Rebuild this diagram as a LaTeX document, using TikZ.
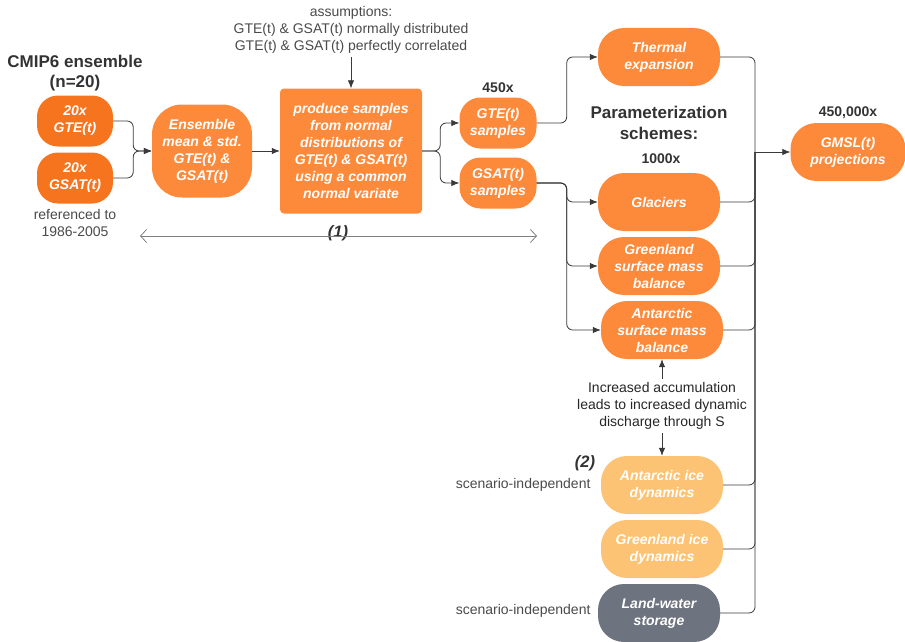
\documentclass[tikz,border=0pt]{standalone}
\usepackage{fontspec}
\setmainfont{Liberation Sans}
\usetikzlibrary{arrows.meta}

\definecolor{deeporange}{HTML}{F7741F}
\definecolor{mainorange}{HTML}{FD8A3A}
\definecolor{lightorange}{HTML}{FDC374}
\definecolor{slatebox}{HTML}{6E7380}
\definecolor{darktext}{HTML}{333333}
\definecolor{softtext}{HTML}{4A4A4A}
\definecolor{linegray}{HTML}{3A3A3A}

\tikzset{
	box/.style={fill=mainorange, text=white, align=center, inner sep=0pt,
		font=\fontsize{14}{17}\selectfont\bfseries\itshape,
		rounded corners=26pt, minimum width=122pt, minimum height=58pt},
	smallbox/.style={box, minimum width=77pt, minimum height=51pt, rounded corners=21pt},
	heading/.style={align=center, text=darktext, font=\fontsize{17}{20.5}\selectfont\bfseries},
	count/.style={text=darktext, font=\fontsize{14}{17}\selectfont\bfseries},
	note/.style={align=center, text=softtext, font=\fontsize{14}{17}\selectfont},
	tag/.style={text=darktext, font=\fontsize{16.5}{20}\selectfont\bfseries\itshape},
	conn/.style={draw=linegray, line width=0.8pt, rounded corners=6pt},
	arr/.style={conn, -{Latex[length=8pt,width=6.5pt]}}
}

\begin{document}
\begin{tikzpicture}[x=1pt, y=-1pt]
	
	\useasboundingbox (0,0) rectangle (905,642);
	
	% inputs
	\node[heading] (cmip) at (75,73) {CMIP6 ensemble\\(n=20)};
	\node[smallbox, fill=deeporange, minimum width=76pt] (gte20) at (75,121) {20x\\GTE(t)};
	\node[smallbox, fill=deeporange, minimum width=76pt] (gsat20) at (75,178) {20x\\GSAT(t)};
	\node[note] (refd) at (75,223) {referenced to\\1986-2005};
	
	\node[box, minimum width=100pt, minimum height=93pt, rounded corners=30pt] (ens) at (202,151) {Ensemble\\mean \& std.\\GTE(t) \&\\GSAT(t)};
	\node[box, minimum width=142pt, minimum height=125pt, rounded corners=4pt] (prod) at (351,151) {produce samples\\from normal\\distributions of\\GTE(t) \& GSAT(t)\\using a common\\normal variate};
	\node[note] (assum) at (351,30) {assumptions:\\GTE(t) \& GSAT(t) normally distributed\\GTE(t) \& GSAT(t) perfectly correlated};
	
	% samples
	\node[count] (n450) at (498,88) {450x};
	\node[smallbox] (gtes) at (498,123) {GTE(t)\\samples};
	\node[smallbox] (gsats) at (498,183) {GSAT(t)\\samples};
	
	\coordinate (spanl) at (140,236);
	\coordinate (spanr) at (537,236);
	\node[tag] (lab1) at (338,233) {(1)};
	
	% parameterization schemes
	\node[box] (therm) at (659,57) {Thermal\\expansion};
	\node[heading] (param) at (659,123) {Parameterization\\schemes:};
	\node[count] (n1000) at (661,159) {1000x};
	\node[box] (glac) at (659,202) {Glaciers};
	\node[box] (grsmb) at (659,266) {Greenland\\surface mass\\balance};
	\node[box] (ansmb) at (662,330) {Antarctic\\surface mass\\balance};
	\node[note, text=black!85] (accum) at (662,406) {Increased accumulation\\leads to increased dynamic\\discharge through S};
	
	\node[box, fill=lightorange] (anid) at (662,485) {Antarctic ice\\dynamics};
	\node[tag] (lab2) at (585,463) {(2)};
	\node[note, anchor=east] (indep1) at (594,485) {scenario-independent};
	\node[box, fill=lightorange] (grid) at (662,549) {Greenland ice\\dynamics};
	\node[box, fill=slatebox] (lws) at (659,613) {Land-water\\storage};
	\node[note, anchor=east] (indep2) at (594,611) {scenario-independent};
	
	% output
	\node[count] (n450k) at (848,113) {450,000x};
	\node[box, minimum width=115pt] (gmsl) at (848,152) {GMSL(t)\\projections};
	\coordinate (merge) at (755,152);
	
	% connectors
	\draw[arr] (gte20.east) -- ++(20,0) |- (ens.west);
	\draw[arr] (gsat20.east) -- ++(20,0) |- (ens.west);
	\draw[arr] (ens) -- (prod);
	\draw[arr] (assum) -- (prod);
	\draw[arr] (prod.east) -- ++(18,0) |- (gtes.west);
	\draw[arr] (prod.east) -- ++(18,0) |- (gsats.west);
	\draw[arr] (gtes.east) -- ++(30,0) |- (therm.west);
	\draw[arr] (gsats.east) -- ++(30,0) |- (glac.west);
	\draw[arr] (gsats.east) -- ++(30,0) |- (grsmb.west);
	\draw[arr] (gsats.east) -- ++(30,0) |- (ansmb.west);
	\draw[arr] (accum) -- (ansmb);
	\draw[arr] (accum) -- (anid);
	
	\foreach \src in {therm,glac,grsmb,ansmb,anid,grid,lws}
	\draw[conn] (\src.east) -| (merge);
	\draw[arr] (merge) -- (gmsl.west);
	
	\draw[draw=gray, line width=0.8pt, {Straight Barb[length=6pt,width=13pt]}-{Straight Barb[length=6pt,width=13pt]}] (spanl) -- (spanr);
	
\end{tikzpicture}
\end{document}
